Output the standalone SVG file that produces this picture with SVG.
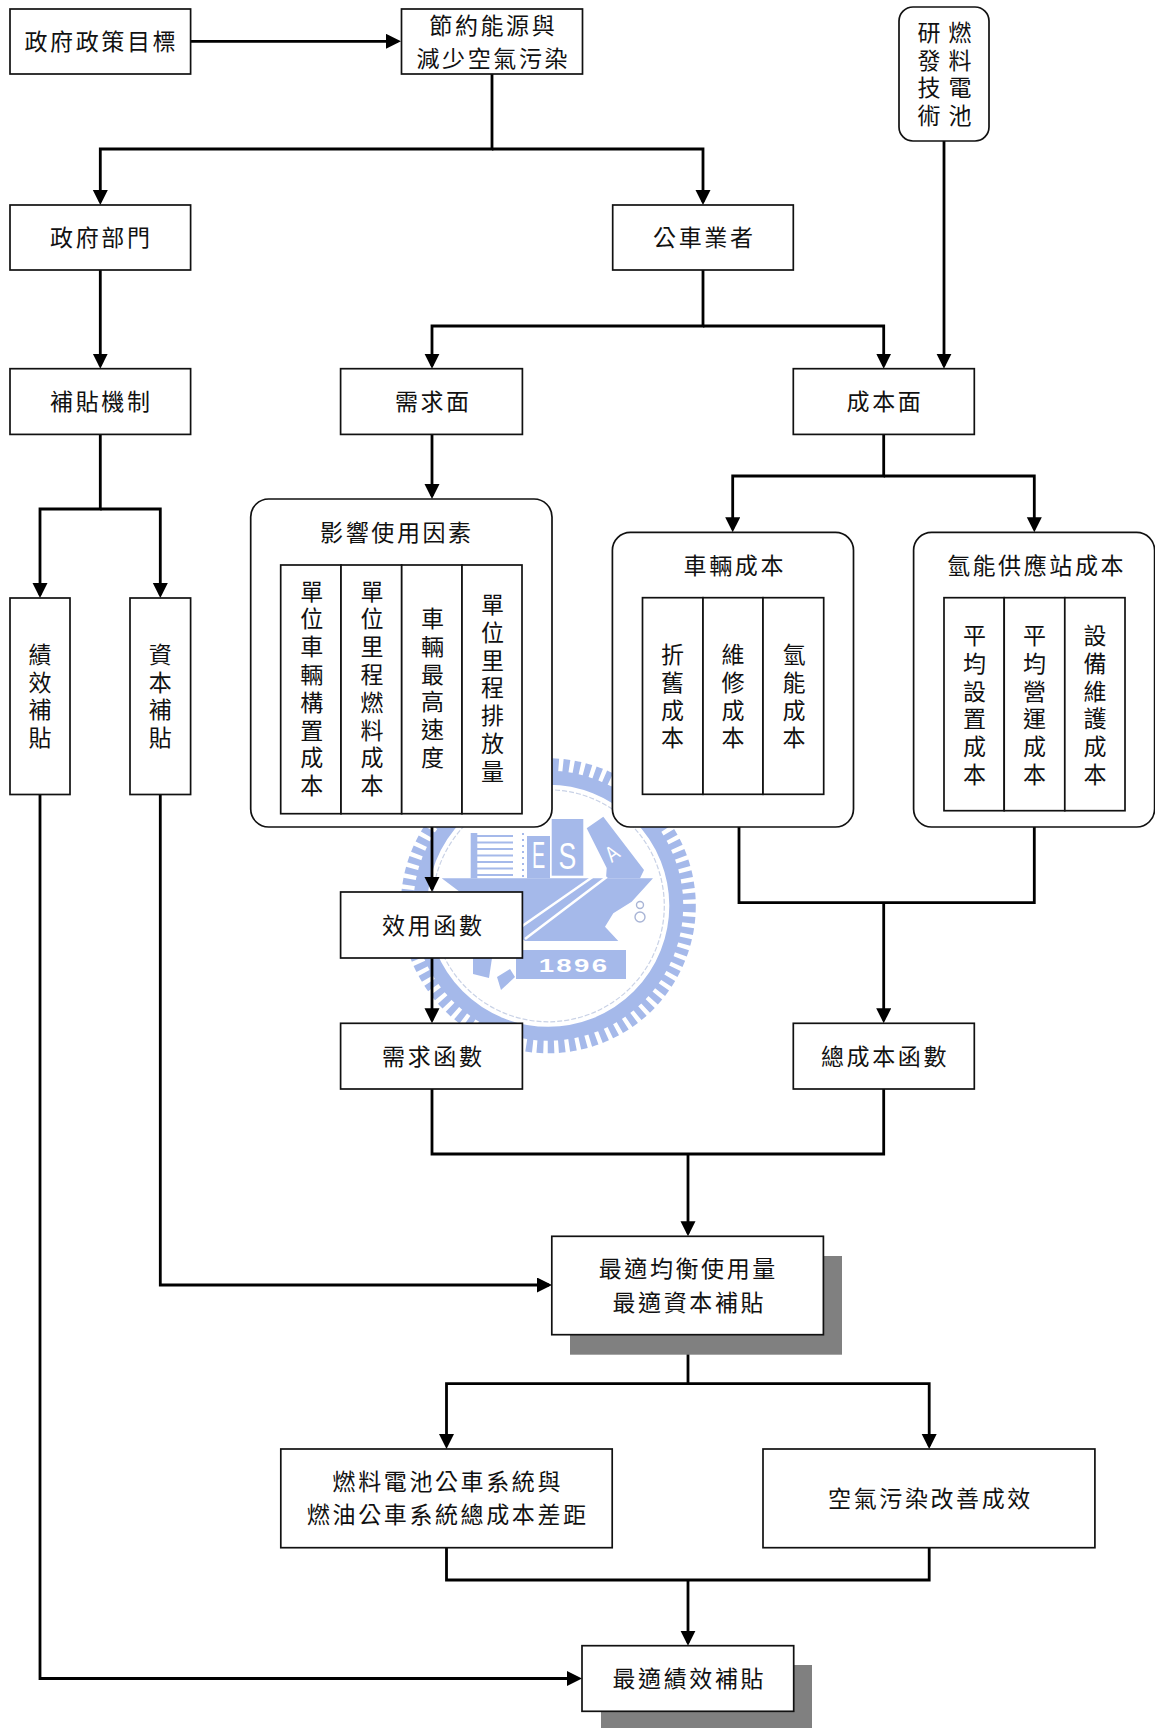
<svg xmlns="http://www.w3.org/2000/svg" width="1155" height="1728" viewBox="0 0 1155 1728">
<style>
.b{fill:#fff;stroke:#111;stroke-width:1.7}
.s{fill:#808080}
.t{font-family:"Noto Sans CJK TC","Noto Sans CJK SC",sans-serif;font-size:23px;font-weight:400;fill:#111;text-anchor:middle;letter-spacing:2.6px}
.v{font-family:"Noto Sans CJK TC","Noto Sans CJK SC",sans-serif;font-size:23px;font-weight:400;fill:#111;writing-mode:vertical-rl;letter-spacing:4.8px}
.c{fill:none;stroke:#000;stroke-width:2.8}
.a{marker-end:url(#ah)}
.w{fill:#a5b9ea}
.wt{font-family:"Liberation Sans",sans-serif;fill:#fff;text-anchor:middle}
</style>
<defs><marker id="ah" markerUnits="userSpaceOnUse" markerWidth="16" markerHeight="16" refX="12" refY="7.5" orient="auto"><path d="M0 0L15 7.5L0 15z" fill="#000"/></marker></defs>
<rect width="1155" height="1728" fill="#fff"/>
<g id="watermark">
<circle cx="548.3" cy="905.8" r="140" fill="none" stroke="#a5b9ea" stroke-width="15" stroke-dasharray="6.4 4.3"/>
<circle cx="548.3" cy="905.8" r="128" fill="none" stroke="#a5b9ea" stroke-width="14"/>
<circle cx="548.3" cy="905.8" r="116" fill="none" stroke="#c9d2e6" stroke-width="1.2" stroke-dasharray="5 2"/>
<polygon class="w" points="441.7,878.3 653,878.3 631.7,901.7 613.3,913.3 605,926.7 618.3,941 525,941"/>
<polygon class="w" points="586.7,828.3 603.3,816.7 644,870 640,878.3 606,878.3 606.7,868"/>
<rect class="w" x="551.7" y="819" width="31.6" height="56.7"/>
<rect class="w" x="527" y="836" width="23" height="42.3"/>
<rect class="w" x="470.7" y="833" width="6.6" height="45.3"/>
<path d="M477 836H513M477 842.5H513M477 849H513M477 855.5H513M477 862H513M477 868.5H513M477 875H513" stroke="#a5b9ea" stroke-width="2.2"/>
<path d="M523 833V878" stroke="#a5b9ea" stroke-width="2" stroke-dasharray="2 4"/>
<path d="M518 929L599.3 872.3L605.7 877.7L525 939" fill="none" stroke="#fff" stroke-width="2.6"/>
<rect class="w" x="516" y="950" width="110" height="29"/>
<polygon class="w" points="473,958 492,958 489,978 473,974"/>
<polygon class="w" points="497,977 510,969 515,977 501,990"/>
<circle cx="640" cy="905" r="3.5" fill="none" stroke="#a9b5d6" stroke-width="1.4"/>
<circle cx="640" cy="917" r="5" fill="none" stroke="#a9b5d6" stroke-width="1.4"/>
<text class="wt" transform="translate(538.5 868) scale(.55 1)" font-size="36">E</text>
<text class="wt" transform="translate(567.5 869) scale(.72 1)" font-size="37">S</text>
<text class="wt" transform="translate(611.7 853) rotate(-36) scale(.8 1)" font-size="22" y="8">A</text>
<text class="wt" transform="translate(574 971.5) scale(1.45 1)" font-size="19" font-weight="700" letter-spacing="1.6">1896</text>
</g>
<g id="connectors">
<path class="c a" d="M190.6 41.3H398"/>
<path class="c a" d="M492 74V149H100.3V202"/>
<path class="c a" d="M492 149H703V202"/>
<path class="c a" d="M100.3 270V365.7"/>
<path class="c a" d="M703 270V326H432V365.7"/>
<path class="c a" d="M703 326H883.7V365.7"/>
<path class="c a" d="M944 141V365.7"/>
<path class="c a" d="M432 434V496"/>
<path class="c a" d="M883.7 434V476H732.7V529.3"/>
<path class="c a" d="M883.7 476H1034.3V529.3"/>
<path class="c a" d="M100.3 434V509H40V595"/>
<path class="c a" d="M100.3 509H160.3V595"/>
<path class="c a" d="M432 827V889"/>
<path class="c a" d="M432 958V1020.3"/>
<path class="c" d="M739 827V902.6H1034.3V827"/>
<path class="c a" d="M883.7 902.6V1020.3"/>
<path class="c" d="M432 1089V1154H883.7V1089"/>
<path class="c a" d="M688 1154V1233.3"/>
<path class="c a" d="M160.3 794.5V1285H549"/>
<path class="c a" d="M40 794.5V1678.5H579"/>
<path class="c a" d="M688 1334.7V1383.7H446.5V1446"/>
<path class="c a" d="M688 1383.7H929.2V1446"/>
<path class="c" d="M446.5 1547.7V1580H929.2V1547.7"/>
<path class="c a" d="M688 1580V1642.7"/>
</g>
<g id="n-policy"><rect class="b" x="10" y="9" width="180.6" height="65"/><text class="t" x="101.3" y="50.4">政府政策目標</text></g>
<g id="n-goal"><rect class="b" x="401.5" y="9" width="181" height="65"/><text class="t" x="493.3" y="34">節約能源與</text><text class="t" x="493.3" y="67.4">減少空氣污染</text></g>
<g id="n-rd"><rect class="b" x="899" y="7" width="90" height="134" rx="14"/><text class="v" x="960" y="20.5">燃料電池</text><text class="v" x="929" y="20.5">研發技術</text></g>
<g id="n-gov"><rect class="b" x="10" y="205" width="180.6" height="65"/><text class="t" x="101.3" y="246">政府部門</text></g>
<g id="n-bus"><rect class="b" x="612.7" y="205" width="180.6" height="65"/><text class="t" x="704.3" y="246">公車業者</text></g>
<g id="n-subsidy"><rect class="b" x="10" y="368.7" width="180.6" height="65.7"/><text class="t" x="101.3" y="410.4">補貼機制</text></g>
<g id="n-demand"><rect class="b" x="340.6" y="368.7" width="181.8" height="65.7"/><text class="t" x="433.3" y="410.4">需求面</text></g>
<g id="n-cost"><rect class="b" x="793.3" y="368.7" width="181" height="65.7"/><text class="t" x="885" y="410.4">成本面</text></g>
<g id="n-perf"><rect class="b" x="10" y="598" width="60" height="196.5"/><text class="v" x="40" y="642.5">績效補貼</text></g>
<g id="n-cap"><rect class="b" x="130" y="598" width="60.6" height="196.5"/><text class="v" x="160.3" y="642.5">資本補貼</text></g>
<g id="n-factors"><rect class="b" x="250.7" y="499" width="301.3" height="328" rx="18"/><text class="t" x="396.9" y="541.4">影響使用因素</text>
<rect class="b" x="280.7" y="565" width="60.3" height="248.7"/><rect class="b" x="341" y="565" width="60.7" height="248.7"/><rect class="b" x="401.7" y="565" width="60.3" height="248.7"/><rect class="b" x="462" y="565" width="60" height="248.7"/>
<text class="v" x="311.7" y="579.4">單位車輛構置成本</text><text class="v" x="372" y="579.4">單位里程燃料成本</text><text class="v" x="432.5" y="606.7">車輛最高速度</text><text class="v" x="492.5" y="592.7">單位里程排放量</text></g>
<g id="n-vehicle"><rect class="b" x="612.4" y="532.3" width="241.1" height="294.7" rx="18"/><text class="t" x="734.8" y="574">車輛成本</text>
<rect class="b" x="642.5" y="597.7" width="60.5" height="196.6"/><rect class="b" x="703" y="597.7" width="60" height="196.6"/><rect class="b" x="763" y="597.7" width="60.7" height="196.6"/>
<text class="v" x="672.5" y="642.7">折舊成本</text><text class="v" x="733" y="642.7">維修成本</text><text class="v" x="794" y="642.7">氫能成本</text></g>
<g id="n-station"><rect class="b" x="913.6" y="532.3" width="241" height="294.7" rx="18"/><text class="t" x="1036.5" y="574">氫能供應站成本</text>
<rect class="b" x="944" y="597.7" width="60.2" height="213"/><rect class="b" x="1004.2" y="597.7" width="60.6" height="213"/><rect class="b" x="1064.8" y="597.7" width="60.2" height="213"/>
<text class="v" x="974.5" y="623.7">平均設置成本</text><text class="v" x="1034.5" y="623.7">平均營運成本</text><text class="v" x="1095" y="623.7">設備維護成本</text></g>
<g id="n-utility"><rect class="b" x="340.6" y="892" width="181.8" height="66"/><text class="t" x="433.3" y="934.4">效用函數</text></g>
<g id="n-dfunc"><rect class="b" x="340.6" y="1023.3" width="181.8" height="65.7"/><text class="t" x="433.3" y="1065.4">需求函數</text></g>
<g id="n-cfunc"><rect class="b" x="793.3" y="1023.3" width="181" height="65.7"/><text class="t" x="885" y="1065.4">總成本函數</text></g>
<g id="n-opt"><rect class="s" x="570" y="1256" width="272" height="98.7"/><rect class="b" x="551.8" y="1236.3" width="271.6" height="98.4"/><text class="t" x="688.3" y="1277.4">最適均衡使用量</text><text class="t" x="689.3" y="1311.4">最適資本補貼</text></g>
<g id="n-gap"><rect class="b" x="280.8" y="1449" width="331.4" height="98.7"/><text class="t" x="447.8" y="1490">燃料電池公車系統與</text><text class="t" x="447.8" y="1523.4">燃油公車系統總成本差距</text></g>
<g id="n-air"><rect class="b" x="763" y="1449" width="331.9" height="98.7"/><text class="t" x="930.5" y="1507.4">空氣污染改善成效</text></g>
<g id="n-final"><rect class="s" x="601" y="1665" width="211" height="63"/><rect class="b" x="582" y="1645.7" width="211.7" height="65.6"/><text class="t" x="689.3" y="1687.4">最適績效補貼</text></g>
</svg>
